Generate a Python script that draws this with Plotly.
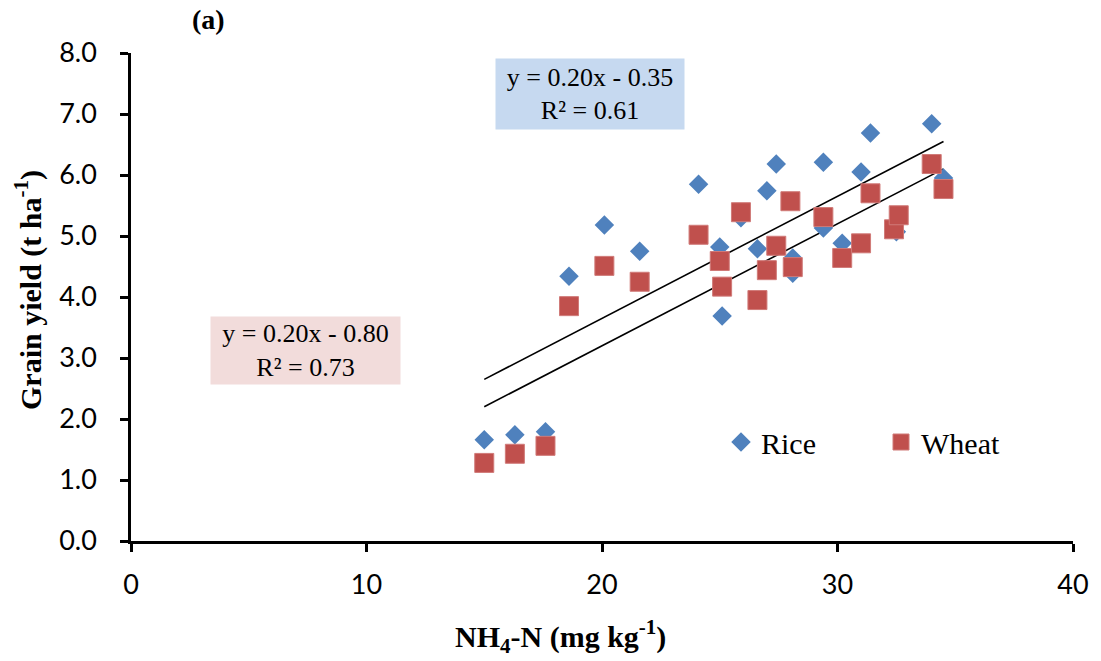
import plotly.graph_objects as go

rice_x = [15.0, 16.3, 17.6, 18.6, 20.1, 21.6, 24.1, 25.0, 25.1, 25.9, 26.6, 27.0,
          27.4, 28.1, 28.1, 29.4, 29.4, 30.2, 31.0, 31.4, 32.5, 34.0, 34.5]
rice_y = [1.66, 1.74, 1.79, 4.34, 5.18, 4.75, 5.85, 4.82, 3.69, 5.30, 4.79, 5.74,
          6.18, 4.64, 4.39, 6.21, 5.13, 4.88, 6.05, 6.69, 5.07, 6.84, 5.95]
wheat_x = [15.0, 16.3, 17.6, 18.6, 20.1, 21.6, 24.1, 25.0, 25.1, 25.9, 26.6, 27.0,
           27.4, 28.0, 28.1, 29.4, 30.2, 31.0, 31.4, 32.4, 32.6, 34.0, 34.5]
wheat_y = [1.28, 1.43, 1.56, 3.85, 4.51, 4.25, 5.02, 4.59, 4.17, 5.39, 3.95, 4.44,
           4.84, 5.57, 4.49, 5.31, 4.64, 4.88, 5.70, 5.11, 5.34, 6.18, 5.77]

rice_fit = (0.20, -0.35, 0.61)
wheat_fit = (0.20, -0.80, 0.73)
fit_range = [15.0, 34.5]

x_ticks = [0, 10, 20, 30, 40]
y_ticks = [0, 1, 2, 3, 4, 5, 6, 7, 8]

BLUE = "#4f81bd"
RED = "#c0504d"
SERIF = "Liberation Serif, Times New Roman, serif"
SANS = "Lato, Open Sans, sans-serif"

L, R, T, B = 131, 28, 53, 120
W, H = 1101, 661
PW, PH = W - L - R, H - T - B

def px(xp):
    return (xp - L) / PW

def py(yp):
    return (H - B - yp) / PH

fig = go.Figure()

for slope, icpt, _ in (rice_fit, wheat_fit):
    fig.add_trace(go.Scatter(
        x=fit_range, y=[slope * v + icpt for v in fit_range], mode="lines",
        line=dict(color="black", width=1.6), showlegend=False, hoverinfo="skip"))

fig.add_trace(go.Scatter(
    x=rice_x, y=rice_y, mode="markers", name="Rice",
    marker=dict(symbol="diamond", size=15, color=BLUE, line=dict(width=0))))
fig.add_trace(go.Scatter(
    x=wheat_x, y=wheat_y, mode="markers", name="Wheat",
    marker=dict(symbol="square", size=19, color=RED, line=dict(width=1, color="#d07a78"))))

def eq_text(fit):
    s, b, r2 = fit
    sign = "-" if b < 0 else "+"
    return f"y = {s:.2f}x {sign} {abs(b):.2f}<br>R² = {r2:.2f}"

fig.add_annotation(x=px(590), y=py(94), xref="paper", yref="paper", text=eq_text(rice_fit),
                   showarrow=False, width=186, height=68, bgcolor="#c6d9f0",
                   xanchor="center", yanchor="middle",
                   font=dict(family=SERIF, size=26, color="black"))
fig.add_annotation(x=px(305), y=py(350), xref="paper", yref="paper", text=eq_text(wheat_fit),
                   showarrow=False, width=187, height=65, bgcolor="#f2dcdb",
                   xanchor="center", yanchor="middle",
                   font=dict(family=SERIF, size=26, color="black"))

fig.add_annotation(x=px(208), y=py(20), xref="paper", yref="paper", text="<b>(a)</b>",
                   showarrow=False, xanchor="center", yanchor="middle",
                   font=dict(family=SERIF, size=28, color="black"))

fig.add_annotation(x=px(560), y=py(636), xref="paper", yref="paper",
                   text="<b>NH<sub>4</sub>-N (mg kg<sup>-1</sup>)</b>",
                   showarrow=False, xanchor="center", yanchor="middle",
                   font=dict(family=SERIF, size=30, color="black"))
fig.add_annotation(x=px(28), y=py(290), xref="paper", yref="paper",
                   text="<b>Grain yield (t ha<sup>-1</sup>)</b>", textangle=-90,
                   showarrow=False, xanchor="center", yanchor="middle",
                   font=dict(family=SERIF, size=30, color="black"))

fig.update_layout(
    width=W, height=H,
    margin=dict(l=L, r=R, t=T, b=B, autoexpand=False),
    paper_bgcolor="white", plot_bgcolor="white",
    legend=dict(orientation="h", x=px(721), y=py(416), xanchor="left", yanchor="top",
                font=dict(family=SERIF, size=30, color="black"),
                entrywidth=115, entrywidthmode="pixels",
                bgcolor="rgba(0,0,0,0)", itemsizing="trace"),
    xaxis=dict(range=[0, 40], tickvals=x_ticks, ticktext=[str(v) for v in x_ticks],
               showgrid=False, zeroline=False, showline=True, linecolor="black",
               linewidth=2.5, ticks="outside", ticklen=8, tickwidth=2.5, tickcolor="black",
               ticklabelstandoff=10,
               tickfont=dict(family=SANS, size=27, color="black")),
    yaxis=dict(range=[0, 8], tickvals=y_ticks, ticktext=[f"{v:.1f}" for v in y_ticks],
               showgrid=False, zeroline=False, showline=True, linecolor="black",
               linewidth=2.5, ticks="outside", ticklen=8, tickwidth=2.5, tickcolor="black",
               ticklabelstandoff=18,
               tickfont=dict(family=SANS, size=27, color="black")),
)

fig.write_html("out.html")
